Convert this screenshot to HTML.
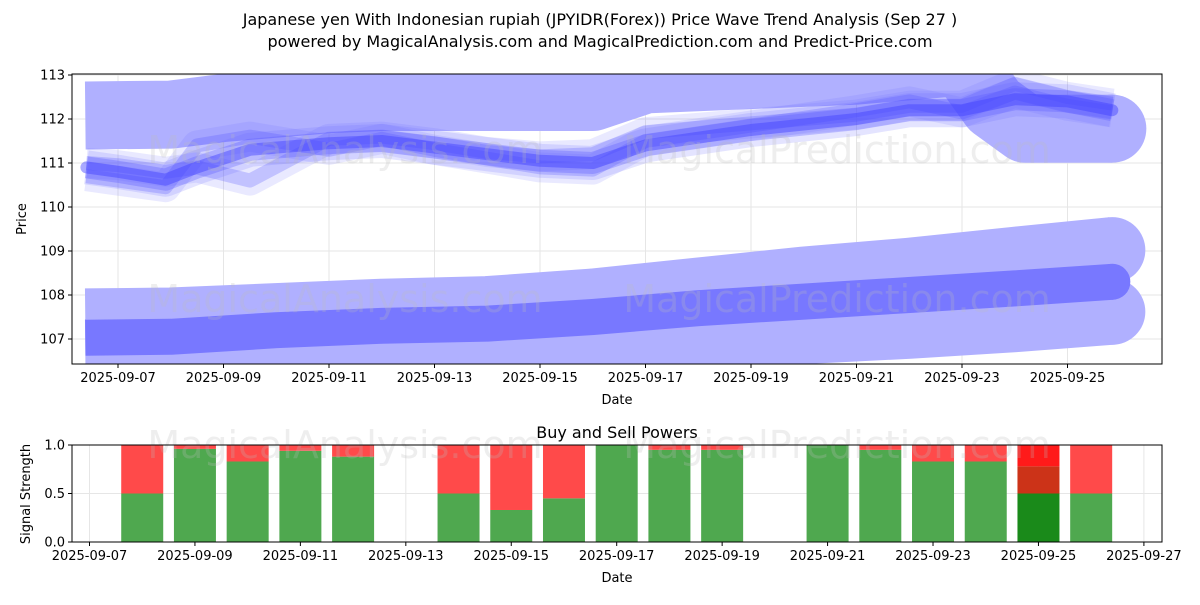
<!DOCTYPE html>
<html><head><meta charset="utf-8"><style>
body{margin:0;background:#fff;font-family:"Liberation Sans","DejaVu Sans",sans-serif;}
svg text{font-family:"DejaVu Sans","Liberation Sans",sans-serif;}
</style></head><body>
<svg id="c" width="1200" height="600" viewBox="0 0 1200 600" xmlns="http://www.w3.org/2000/svg">
<text x="600" y="25" text-anchor="middle" font-size="16">Japanese yen With Indonesian rupiah (JPYIDR(Forex)) Price Wave Trend Analysis (Sep 27 )</text>
<text x="600" y="47" text-anchor="middle" font-size="16">powered by MagicalAnalysis.com and MagicalPrediction.com and Predict-Price.com</text>
<g id="topg"></g><g id="botg"></g>
</svg>
<script>
// ---- data ----
const priceTicks=[107,108,109,110,111,112,113];
const dateTickDays=[7,9,11,13,15,17,19,21,23,25];
const dateTickLabels=["2025-09-07","2025-09-09","2025-09-11","2025-09-13","2025-09-15","2025-09-17","2025-09-19","2025-09-21","2025-09-23","2025-09-25"];
const botTickDays=[7,9,11,13,15,17,19,21,23,25,27];
const botTickLabels=["2025-09-07","2025-09-09","2025-09-11","2025-09-13","2025-09-15","2025-09-17","2025-09-19","2025-09-21","2025-09-23","2025-09-25","2025-09-27"];
const band1Days=[6.38,8,9,11,12,16,17,19,21,22,23,23.6,24.2,25.85];
const band1Vals=[112.08,112.1,112.25,112.45,112.5,112.5,112.9,113.0,113.1,113.2,113.3,112.3,111.78,111.78];
const band2Days=[6.38,8,10,12,14,16,18,20,22,24,25.85];
const band2Vals=[107.4,107.42,107.52,107.62,107.68,107.85,108.1,108.35,108.55,108.8,109.02];
const band3Days=[6.38,8,10,12,14,16,18,20,22,24,25.85];
const band3Vals=[106.7,106.72,106.8,106.85,106.88,106.98,107.08,107.18,107.3,107.45,107.62];
const darkDays=[6.38,8,10,12,14,16,18,20,22,24,25.85];
const darkVals=[107.03,107.05,107.2,107.3,107.35,107.5,107.7,107.85,108.0,108.15,108.3];
const waveDays=[6.4,7,7.9,8.5,9.5,11,12,13,14,15,16,17,19,21,22,23,24,25,25.85];
const waveVals=[110.9,110.8,110.62,110.9,111.3,111.45,111.5,111.35,111.2,111.05,111.0,111.4,111.75,112.0,112.2,112.2,112.45,112.4,112.2];
const waveAltVals=[110.7,110.6,110.45,111.4,111.6,111.3,111.55,111.3,111.1,110.9,110.85,111.5,111.85,112.2,112.4,112.15,112.6,112.3,112.15];
const waveAlt2Vals=[111.0,110.95,110.8,110.9,110.6,111.55,111.6,111.45,111.25,111.15,111.2,111.7,111.9,112.1,112.3,112.3,112.8,112.5,112.35];
const barDays=[8,9,10,11,12,14,15,16,17,18,19,21,22,23,24,25,26];
const buyVals=[0.5,0.96,0.83,0.94,0.88,0.5,0.33,0.45,1.0,0.95,0.95,1.0,0.95,0.83,0.83,0.5,0.5];
// ---- helpers ----
const NS="http://www.w3.org/2000/svg";
function mk(tag,attrs,parent){const e=document.createElementNS(NS,tag);for(const k in attrs)e.setAttribute(k,attrs[k]);parent.appendChild(e);return e;}
const T={l:72,r:1162,t:74,b:364};
const xT=d=>118+(d-7)*52.75;
const yT=v=>75+(113-v)*44;
const B={l:72,r:1162,t:445,b:542};
const xB=d=>89.5+(d-7)*52.72;
const yB=v=>542-v*97;
const topG=document.getElementById('topg'),botG=document.getElementById('botg');
const defs=mk('defs',{},topG);
const cp=mk('clipPath',{id:'cpT'},defs);mk('rect',{x:T.l,y:T.t,width:T.r-T.l,height:T.b-T.t},cp);
priceTicks.forEach(v=>{const l=mk('line',{x1:T.l,x2:T.r,y1:yT(v),y2:yT(v),stroke:'#e6e6e6','stroke-width':1},topG);
});
dateTickDays.forEach(d=>{const l=mk('line',{x1:xT(d),x2:xT(d),y1:T.t,y2:T.b,stroke:'#e6e6e6','stroke-width':1},topG);
});
const plot=mk('g',{'clip-path':'url(#cpT)'},topG);
function pts(days,vals,xf,yf){return days.map((d,i)=>xf(d).toFixed(1)+','+yf(vals[i]).toFixed(1)).join(' ');}
function thick(days,vals,w,color,op,name,capStyle){const p=mk('polyline',{points:pts(days,vals,xT,yT),fill:'none',stroke:color,'stroke-width':w,'stroke-opacity':op,'stroke-linejoin':'round','stroke-linecap':capStyle||'butt'},plot);
return p;}
function endCap(days,vals,w,color,op){const n=days.length-1;const c=mk('circle',{cx:xT(days[n]),cy:yT(vals[n]),r:w/2,fill:color,'fill-opacity':op},plot);
}
thick(band1Days,band1Vals,68,'#b0b0ff',1,'upper-band');endCap(band1Days,band1Vals,68,'#b0b0ff',1);
thick(band2Days,band2Vals,66,'#b0b0ff',1,'middle-band');endCap(band2Days,band2Vals,66,'#b0b0ff',1);
thick(band3Days,band3Vals,66,'#b0b0ff',1,'lower-band');endCap(band3Days,band3Vals,66,'#b0b0ff',1);
thick(darkDays,darkVals,36,'#7878ff',1,'dark-band');endCap(darkDays,darkVals,36,'#7878ff',1);
thick(waveDays,waveAltVals,30,'#6a6aff',0.15,'wave-spread');
thick(waveDays,waveAlt2Vals,30,'#6a6aff',0.15,'wave-spread');
thick(waveDays,waveVals,34,'#6a6aff',0.18,'wave-spread');
thick(waveDays,waveVals,22,'#5a5aff',0.3,'wave-mid');
thick(waveDays,waveAltVals,14,'#5050ff',0.25,'wave-line');
thick(waveDays,waveAlt2Vals,14,'#5050ff',0.25,'wave-line');
thick(waveDays,waveVals,12,'#4040ff',0.45,'wave-core','round');
function wm(y,g,n){[[345,'MagicalAnalysis.com'],[837,'MagicalPrediction.com']].forEach(([x,s])=>{const w=mk('text',{x:x,y:y,'text-anchor':'middle','font-size':38,fill:'#bbbbbb','fill-opacity':0.25},g);
w.textContent=s;});}
wm(163,topG,'wm-top');wm(312,topG,'wm-mid');
mk('rect',{x:T.l,y:T.t,width:T.r-T.l,height:T.b-T.t,fill:'none',stroke:'#000','stroke-width':1},topG);
priceTicks.forEach(v=>{mk('line',{x1:T.l-4,x2:T.l,y1:yT(v),y2:yT(v),stroke:'#000'},topG);
const q=mk('text',{x:T.l-7,y:yT(v)+4.5,'text-anchor':'end','font-size':13},topG);q.textContent=v;
});
dateTickDays.forEach((d,i)=>{mk('line',{x1:xT(d),x2:xT(d),y1:T.b,y2:T.b+4,stroke:'#000'},topG);
const q=mk('text',{x:xT(d),y:T.b+18,'text-anchor':'middle','font-size':13},topG);q.textContent=dateTickLabels[i];
});
let tx=mk('text',{x:617,y:404,'text-anchor':'middle','font-size':13},topG);tx.textContent='Date';


tx=mk('text',{x:0,y:0,'text-anchor':'middle','font-size':13,transform:'translate(26,219) rotate(-90)'},topG);tx.textContent='Price';


// ---- bottom ----
[0,0.5,1].forEach(v=>{const l=mk('line',{x1:B.l,x2:B.r,y1:yB(v),y2:yB(v),stroke:'#e6e6e6'},botG);
});
botTickDays.forEach(d=>{const l=mk('line',{x1:xB(d),x2:xB(d),y1:B.t,y2:B.b,stroke:'#e6e6e6'},botG);
});
barDays.forEach((d,i)=>{const bw=42,x=xB(d)-bw/2,b=buyVals[i];const last=d===25;
const g=mk('rect',{x:x,y:yB(b),width:bw,height:yB(0)-yB(b),fill:last?'#1a8a1a':'#4fa84f'},botG);

if(last){const m=mk('rect',{x:x,y:yB(0.78),width:bw,height:yB(b)-yB(0.78),fill:'#cc3318'},botG);

const r=mk('rect',{x:x,y:yB(1),width:bw,height:yB(0.78)-yB(1),fill:'#ff1a1a'},botG);
}
else if(b<1){const r=mk('rect',{x:x,y:yB(1),width:bw,height:yB(b)-yB(1),fill:'#ff4a4a'},botG);
}});
wm(458,botG,'wm-bottom');
mk('rect',{x:B.l,y:B.t,width:B.r-B.l,height:B.b-B.t,fill:'none',stroke:'#000'},botG);
[[0,'0.0'],[0.5,'0.5'],[1,'1.0']].forEach(([v,s])=>{mk('line',{x1:B.l-4,x2:B.l,y1:yB(v),y2:yB(v),stroke:'#000'},botG);
const q=mk('text',{x:B.l-7,y:yB(v)+4.5,'text-anchor':'end','font-size':13},botG);q.textContent=s;
});
botTickDays.forEach((d,i)=>{mk('line',{x1:xB(d),x2:xB(d),y1:B.b,y2:B.b+4,stroke:'#000'},botG);
const q=mk('text',{x:xB(d),y:B.b+18,'text-anchor':'middle','font-size':13},botG);q.textContent=botTickLabels[i];
});
tx=mk('text',{x:617,y:438,'text-anchor':'middle','font-size':16},botG);tx.textContent='Buy and Sell Powers';


tx=mk('text',{x:617,y:582,'text-anchor':'middle','font-size':13},botG);tx.textContent='Date';


tx=mk('text',{x:0,y:0,'text-anchor':'middle','font-size':13,transform:'translate(30,494) rotate(-90)'},botG);tx.textContent='Signal Strength';


</script>
</body></html>
